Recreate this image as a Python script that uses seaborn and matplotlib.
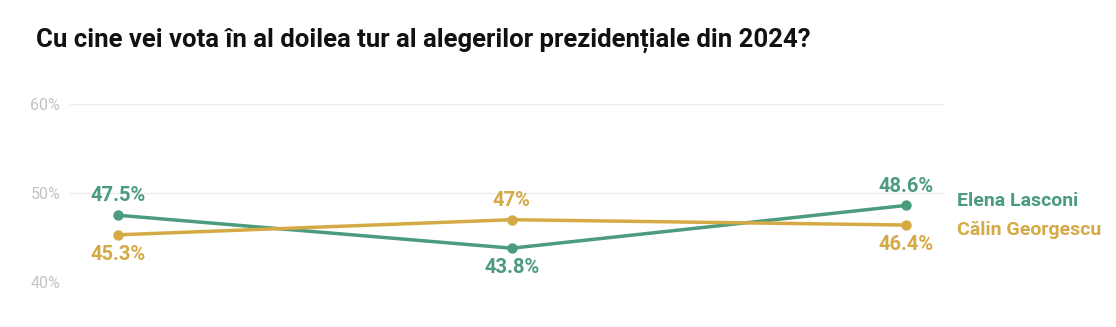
import matplotlib
matplotlib.use("Agg")
import matplotlib.pyplot as plt
import seaborn as sns
import pandas as pd

# ---- data ----
rounds = ["R1", "R2", "R3"]
lasconi = [47.5, 43.8, 48.6]
georgescu = [45.3, 47.0, 46.4]
series_names = ["Elena Lasconi", "Călin Georgescu"]
label_texts_l = ["47.5%", "43.8%", "48.6%"]
label_texts_g = ["45.3%", "47%", "46.4%"]
yticks = [40, 50, 60]
ytick_labels = ["40%", "50%", "60%"]
title = "Cu cine vei vota în al doilea tur al alegerilor prezidențiale din 2024?"

GREEN = "#4b9b7d"
GOLD = "#d5aa45"
LABEL_FONT = ['Roboto', 'DejaVu Sans']

sns.set_theme(style="white")
plt.rcParams['font.family'] = ['Roboto', 'DejaVu Sans']
plt.rcParams['font.style'] = 'normal'

df = pd.DataFrame({
    "x": list(range(len(rounds))) * 2,
    "value": lasconi + georgescu,
    "who": [series_names[0]] * len(rounds) + [series_names[1]] * len(rounds),
})

fig = plt.figure(figsize=(11.16, 3.27), dpi=100)
ax = fig.add_axes([70/1116, 1-282/327, (945-70)/1116, (282-104)/327])

sns.lineplot(data=df, x="x", y="value", hue="who",
             palette={series_names[0]: GREEN, series_names[1]: GOLD},
             marker="o", markersize=7.5, markeredgewidth=0, linewidth=2.5,
             legend=False, ax=ax, zorder=3)

ax.set_xlim(-0.122, 2.10)
ax.set_ylim(40, 60)
ax.set_yticks(yticks)
ax.set_yticklabels(ytick_labels)
ax.set_xticks([])
ax.set_xlabel("")
ax.set_ylabel("")
ax.grid(axis="y", color="#ececec", linewidth=1)
for s in ax.spines.values():
    s.set_visible(False)
ax.tick_params(axis="y", length=0, pad=7, labelsize=11.5, labelcolor="#c4c4c4")

# value labels
for i in range(len(rounds)):
    lup = lasconi[i] >= georgescu[i]
    ax.annotate(label_texts_l[i], (i, lasconi[i]), xytext=(0, 14 if lup else -14),
                textcoords="offset points", ha="center", va="center",
                fontsize=14.5, fontweight="bold", color=GREEN, family=LABEL_FONT)
    ax.annotate(label_texts_g[i], (i, georgescu[i]), xytext=(0, -14 if lup else 14),
                textcoords="offset points", ha="center", va="center",
                fontsize=14.5, fontweight="bold", color=GOLD, family=LABEL_FONT)

# end labels
ax.annotate(series_names[0], (2, lasconi[-1]), xytext=(957/1116, 1-201/327),
            textcoords="figure fraction", ha="left", va="center",
            fontsize=14, fontweight="bold", color=GREEN, annotation_clip=False,
            family=LABEL_FONT)
ax.annotate(series_names[1], (2, georgescu[-1]), xytext=(957/1116, 1-230/327),
            textcoords="figure fraction", ha="left", va="center",
            fontsize=14, fontweight="bold", color=GOLD, annotation_clip=False,
            family=LABEL_FONT)

fig.text(36/1116, 1-40/327, title, ha="left", va="center",
         fontsize=18.5, fontweight="bold", color="#111111",
         family=['Roboto', 'DejaVu Sans'])

fig.savefig("out.png", dpi=100, facecolor="white")
